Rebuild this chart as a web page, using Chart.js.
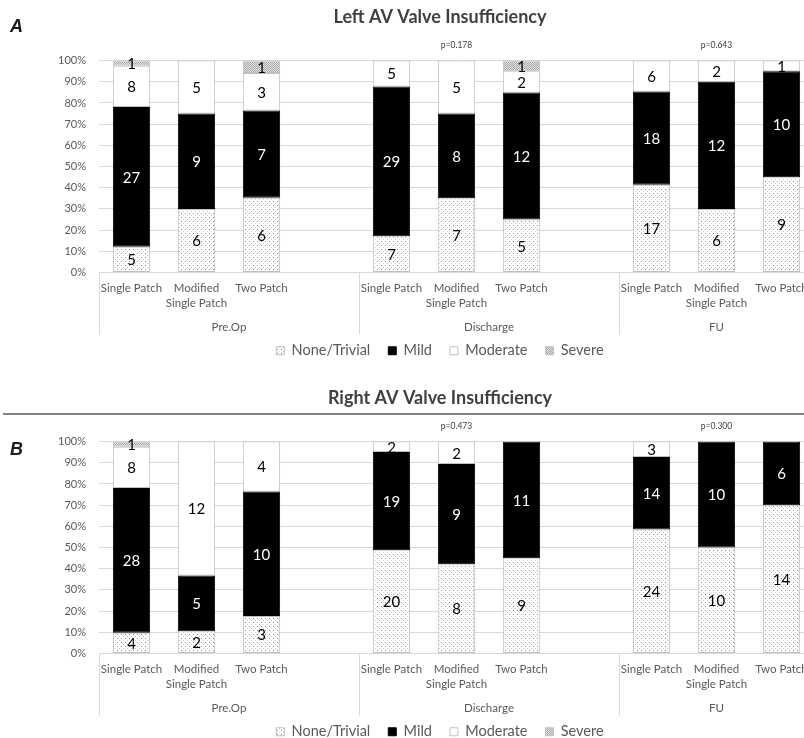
<!DOCTYPE html>
<html>
<head>
<meta charset="utf-8">
<title>AV Valve Insufficiency</title>
<script src="https://cdn.jsdelivr.net/npm/chart.js@4.4.1/dist/chart.umd.min.js"></script>
<style>
  html, body { margin: 0; padding: 0; background: #fff; width: 804px; height: 738px; overflow: hidden; }
  canvas { position: absolute; left: 0; }
  #leftChart { top: 0; }
  #rightChart { top: 381px; }
</style>
</head>
<body>
<canvas id="leftChart" width="880" height="368"></canvas>
<canvas id="rightChart" width="880" height="368"></canvas>
<script>
// Time points and repair techniques
const groups = ['Pre.Op', 'Discharge', 'FU'];
const techniques = [['Single Patch'], ['Modified', 'Single Patch'], ['Two Patch']];
const grades = ['None/Trivial', 'Mild', 'Moderate', 'Severe'];
const yTickLabels = ['0%', '10%', '20%', '30%', '40%', '50%', '60%', '70%', '80%', '90%', '100%'];

// Patient counts, ordered Pre.Op (SP, MSP, TP), Discharge (SP, MSP, TP), FU (SP, MSP, TP)
const leftNone     = [5, 6, 6,    7, 7, 5,    17, 6, 9];
const leftMild     = [27, 9, 7,   29, 8, 12,  18, 12, 10];
const leftModerate = [8, 5, 3,    5, 5, 2,    6, 2, 1];
const leftSevere   = [1, 0, 1,    0, 0, 1,    0, 0, 0];
const leftPValues  = [null, 'p=0.178', 'p=0.643'];

const rightNone     = [4, 2, 3,    20, 8, 9,   24, 10, 14];
const rightMild     = [28, 5, 10,  19, 9, 11,  14, 10, 6];
const rightModerate = [8, 12, 4,   2, 2, 0,    3, 0, 0];
const rightSevere   = [1, 0, 0,    0, 0, 0,    0, 0, 0];
const rightPValues  = [null, 'p=0.473', 'p=0.300'];

Chart.defaults.font.family = 'Lato, "Open Sans", sans-serif';

// Category slots: each time point's techniques, with an empty slot between time points
const slots = [];
groups.forEach((g, gi) => {
  techniques.forEach((t, ti) => slots.push({ gi, ti, k: gi * techniques.length + ti }));
  if (gi < groups.length - 1) slots.push(null);
});
const xLabels = slots.map(s => (s ? techniques[s.ti] : ''));

// Fill patterns
function tile(w, h, paint) {
  const c = document.createElement('canvas');
  c.width = w; c.height = h;
  const g = c.getContext('2d');
  paint(g);
  return g.createPattern(c, 'repeat');
}
const dotted = tile(4, 4, g => {
  g.fillStyle = '#ffffff'; g.fillRect(0, 0, 4, 4);
  g.fillStyle = '#8e8e8e'; g.fillRect(1, 1, 1, 1);
  g.fillStyle = '#d2d2d2'; g.fillRect(3, 3, 1, 1);
});
const hatched = tile(2, 2, g => {
  g.fillStyle = '#e2e2e2'; g.fillRect(0, 0, 2, 2);
  g.fillStyle = '#a8a8a8'; g.fillRect(0, 0, 1, 1); g.fillRect(1, 1, 1, 1);
});
const fills = [dotted, '#000000', '#ffffff', hatched];
const borders = ['#bfbfbf', '#000000', '#bfbfbf', '#bfbfbf'];

// Counts written in the middle of each segment
const segmentLabels = {
  id: 'segmentLabels',
  afterDatasetsDraw(chart) {
    const { ctx } = chart;
    ctx.save();
    ctx.font = '15px Lato, "Open Sans", sans-serif';
    ctx.textAlign = 'center';
    ctx.textBaseline = 'middle';
    chart.data.datasets.forEach((ds, di) => {
      const meta = chart.getDatasetMeta(di);
      meta.data.forEach((bar, i) => {
        const n = ds.counts[i];
        if (!n) return;
        const { x, y, base } = bar.getProps(['x', 'y', 'base'], true);
        ctx.fillStyle = di === 1 ? '#ffffff' : '#000000';
        ctx.fillText(String(n), x, (y + base) / 2 + 1);
      });
    });
    ctx.restore();
  }
};

// Time point brackets, p-values, panel letter and rule
const panelDecor = {
  id: 'panelDecor',
  afterDraw(chart, args, opts) {
    const { ctx, chartArea, scales } = chart;
    const x = scales.x;
    const slotW = (chartArea.right - chartArea.left) / slots.length;
    ctx.save();

    ctx.strokeStyle = '#d9d9d9';
    ctx.lineWidth = 1;
    ctx.fillStyle = '#595959';
    ctx.font = '11.5px Lato, "Open Sans", sans-serif';
    ctx.textAlign = 'center';
    ctx.textBaseline = 'middle';
    const edges = [];
    groups.forEach((g, gi) => {
      const start = slots.findIndex(s => s && s.gi === gi);
      const end = gi < groups.length - 1 ? start + techniques.length : start + techniques.length - 1;
      const left = x.getPixelForValue(start) - slotW / 2;
      const right = x.getPixelForValue(end) + slotW / 2;
      edges.push(left);
      if (gi === groups.length - 1) edges.push(right);
      ctx.fillText(g, (left + right) / 2, chartArea.bottom + 55);
    });
    edges.forEach(e => {
      const px = Math.round(e) + 0.5;
      ctx.beginPath();
      ctx.moveTo(px, chartArea.bottom);
      ctx.lineTo(px, chartArea.bottom + 62);
      ctx.stroke();
    });

    ctx.fillStyle = '#404040';
    ctx.font = '8.5px Lato, "Open Sans", sans-serif';
    opts.pValues.forEach((p, gi) => {
      if (!p) return;
      const idx = slots.findIndex(s => s && s.gi === gi && s.ti === 1);
      ctx.fillText(p, x.getPixelForValue(idx), chartArea.top - 15);
    });

    ctx.fillStyle = '#1a1a1a';
    ctx.font = 'italic bold 18px "Liberation Sans", Arial, sans-serif';
    ctx.textAlign = 'left';
    ctx.fillText(opts.letter, 10, opts.letterY);

    if (opts.ruleY) {
      ctx.strokeStyle = '#5a5a5a';
      ctx.lineWidth = 1.5;
      ctx.beginPath();
      ctx.moveTo(3, opts.ruleY);
      ctx.lineTo(chart.width, opts.ruleY);
      ctx.stroke();
    }
    ctx.restore();
  }
};

function makePanel(canvasId, cfg) {
  const series = [cfg.none, cfg.mild, cfg.moderate, cfg.severe];
  const totals = cfg.none.map((_, k) => series.reduce((a, s) => a + s[k], 0));
  const datasets = grades.map((name, si) => ({
    label: name,
    yAxisID: 'y',
    counts: slots.map(s => (s ? series[si][s.k] : null)),
    data: slots.map(s => (s ? series[si][s.k] / totals[s.k] * 100 : null)),
    backgroundColor: fills[si],
    borderColor: borders[si],
    borderWidth: 1,
    borderSkipped: false,
    barPercentage: 0.574,
    categoryPercentage: 1
  }));

  return new Chart(document.getElementById(canvasId), {
    type: 'bar',
    data: { labels: xLabels, datasets },
    plugins: [segmentLabels, panelDecor],
    options: {
      responsive: false,
      animation: false,
      devicePixelRatio: 1,
      layout: { padding: { left: 40, right: 40, top: 0, bottom: 0 } },
      scales: {
        x: {
          stacked: true,
          grid: { display: false, drawTicks: false, tickLength: 0 },
          border: { display: false },
          ticks: {
            autoSkip: false,
            maxRotation: 0,
            minRotation: 0,
            padding: 8,
            color: '#595959',
            font: { size: 11.5, lineHeight: 1.3 }
          },
          afterFit(scale) { scale.height = 53; }
        },
        y: {
          stacked: true,
          position: 'left',
          min: 0,
          max: 100,
          grid: { color: '#d9d9d9', drawTicks: false },
          border: { display: false },
          ticks: {
            stepSize: 10,
            padding: 13,
            color: '#595959',
            font: { size: 11 },
            callback: (v, i) => yTickLabels[i]
          },
          afterFit(scale) { scale.width = 59; }
        },
        // empty right-hand margin so the plot ends where the last bar slot ends
        yMargin: {
          axis: 'y',
          position: 'right',
          grid: { display: false, drawTicks: false },
          border: { display: false },
          ticks: { display: false },
          afterFit(scale) { scale.width = 26; }
        }
      },
      plugins: {
        title: {
          display: true,
          text: cfg.title,
          color: '#404040',
          font: { size: 18, weight: 'bold', lineHeight: 1.2 },
          padding: { top: 6, bottom: 33 }
        },
        legend: {
          position: 'bottom',
          labels: {
            boxWidth: 8,
            boxHeight: 8,
            padding: 18,
            color: '#595959',
            font: { size: 14.5 }
          }
        },
        tooltip: { enabled: false },
        panelDecor: { pValues: cfg.pValues, letter: cfg.letter, letterY: cfg.letterY, ruleY: cfg.ruleY }
      }
    }
  });
}

makePanel('leftChart', {
  title: 'Left AV Valve Insufficiency',
  none: leftNone, mild: leftMild, moderate: leftModerate, severe: leftSevere,
  pValues: leftPValues, letter: 'A', letterY: 27, ruleY: null
});

makePanel('rightChart', {
  title: 'Right AV Valve Insufficiency',
  none: rightNone, mild: rightMild, moderate: rightModerate, severe: rightSevere,
  pValues: rightPValues, letter: 'B', letterY: 69, ruleY: 33
});
</script>
</body>
</html>
